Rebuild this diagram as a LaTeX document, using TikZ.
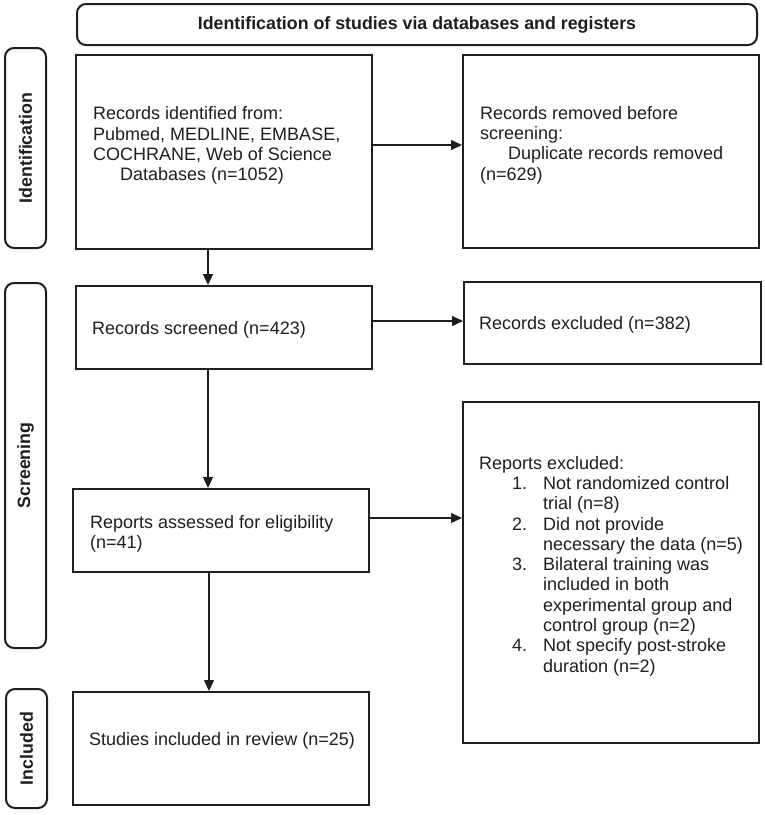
\documentclass[tikz,border=0pt]{standalone}
\usepackage{fontspec}
\setmainfont{Liberation Sans}
\usetikzlibrary{arrows.meta,calc}
\definecolor{ink}{RGB}{30,30,30}
\tikzset{
  box/.style={draw=ink, line width=2pt, rectangle, inner sep=0pt},
  rbox/.style={box, rounded corners=9pt, text=ink, font=\fontsize{17.8}{20}\selectfont\bfseries},
  txt/.style={anchor=west, align=left, text=ink, font=\fontsize{18}{20.3}\selectfont, inner sep=0pt},
  arr/.style={draw=ink, line width=1.2pt, -{Triangle[length=11pt,width=10pt]}},
}
\newcommand{\itm}[1]{\hspace*{33pt}\makebox[31pt][l]{#1}}
\newcommand{\cnt}{\hspace*{64pt}}
\begin{document}
\begin{tikzpicture}[x=1pt,y=-1pt]
\useasboundingbox (0,0) rectangle (765,815);
% title and stage labels
\node[rbox, minimum width=680pt, minimum height=41pt] (title) at (417,24.5) {Identification of studies via databases and registers};
\node[rbox, rotate=90, minimum width=200pt, minimum height=41pt] (lab1) at (25.5,148) {Identification};
\node[rbox, rotate=90, minimum width=365pt, minimum height=41pt] (lab2) at (25.5,465.5) {Screening};
\node[rbox, rotate=90, minimum width=119pt, minimum height=41pt] (lab3) at (26.5,748.5) {Included};
% boxes
\node[box, minimum width=296pt, minimum height=194pt] (b1) at (224,152) {};
\node[box, minimum width=296pt, minimum height=193pt] (b2) at (611,151.5) {};
\node[box, minimum width=296pt, minimum height=83pt] (b3) at (224,327.5) {};
\node[box, minimum width=297pt, minimum height=82pt] (b4) at (612.5,323) {};
\node[box, minimum width=296pt, minimum height=83pt] (b5) at (221,530.5) {};
\node[box, minimum width=296pt, minimum height=341pt] (b6) at (611,572.5) {};
\node[box, minimum width=296pt, minimum height=113pt] (b7) at (221,748.5) {};
% texts
\node[txt] (t1) at (93,145.5) {Records identified from:\\Pubmed, MEDLINE, EMBASE,\\COCHRANE, Web of Science\\\hspace*{27pt}Databases (n=1052)};
\node[txt] (t2) at (480,145) {Records removed before\\screening:\\\hspace*{28pt}Duplicate records removed\\(n=629)};
\node[txt] (t3) at (92,330) {Records screened (n=423)};
\node[txt] (t4) at (479,325) {Records excluded (n=382)};
\node[txt] (t5) at (90,534) {Reports assessed for eligibility\\(n=41)};
\node[txt] (t6) at (479,566) {Reports excluded:\\
\itm{1.}Not randomized control\\\cnt trial (n=8)\\
\itm{2.}Did not provide\\\cnt necessary the data (n=5)\\
\itm{3.}Bilateral training was\\\cnt included in both\\\cnt experimental group and\\\cnt control group (n=2)\\
\itm{4.}Not specify post-stroke\\\cnt duration (n=2)};
\node[txt] (t7) at (89,741) {Studies included in review (n=25)};
% connectors
\draw[arr] ([yshift=7pt]b1.east) -- ([yshift=7pt]b1.east -| b2.west);
\draw[arr] ([xshift=-16pt]b1.south) -- ([xshift=-16pt]b1.south |- b3.north);
\draw[arr] ([yshift=6.5pt]b3.east) -- ([yshift=6.5pt]b3.east -| b4.west);
\draw[arr] ([xshift=-16pt]b3.south) -- ([xshift=-16pt]b3.south |- b5.north);
\draw[arr] ([yshift=12.5pt]b5.east) -- ([yshift=12.5pt]b5.east -| b6.west);
\draw[arr] ([xshift=-12pt]b5.south) -- ([xshift=-12pt]b5.south |- b7.north);
\end{tikzpicture}
\end{document}
